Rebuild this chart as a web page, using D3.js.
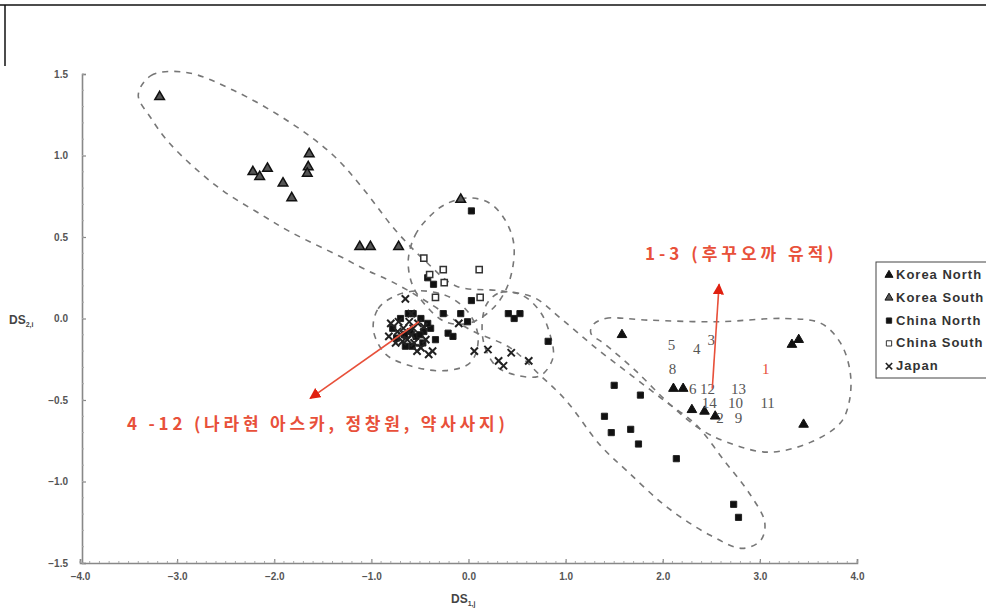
<!DOCTYPE html>
<html><head><meta charset="utf-8">
<script src="https://cdn.jsdelivr.net/npm/d3@7"></script>
<style>body{margin:0;background:#fff}svg{display:block}</style>
</head><body>
<svg id="c" width="986" height="612"></svg>
<script>
// ---- data (DS1,j , DS2,i) ----
const koreaSouth = [[-3.18,1.36],[-2.22,0.90],[-2.15,0.87],[-2.07,0.92],[-1.91,0.83],[-1.82,0.74],[-1.64,1.01],[-1.65,0.93],[-1.66,0.89],[-1.12,0.44],[-1.01,0.44],[-0.72,0.44],[-0.08,0.73]];
const koreaNorth = [[1.58,-0.10],[2.11,-0.43],[2.21,-0.43],[2.30,-0.56],[2.43,-0.57],[2.54,-0.60],[3.33,-0.16],[3.40,-0.13],[3.45,-0.65]];
const chinaNorth = [[1.50,-0.41],[1.77,-0.47],[1.40,-0.60],[1.47,-0.70],[1.67,-0.68],[1.75,-0.77],[2.14,-0.86],[2.73,-1.14],[2.78,-1.22],[0.82,-0.14],[0.03,0.66],
  [-0.46,-0.08],[-0.39,-0.06],[-0.62,0.03],[-0.57,0.03],[-0.70,0.00],[-0.54,-0.11],[-0.78,-0.06],[-0.65,-0.17],[-0.21,-0.09],[-0.16,-0.11],[-0.26,0.03],[-0.08,0.03],[-0.01,-0.02],[-0.49,0.00],[-0.34,-0.13],[-0.42,0.25],[-0.36,0.21],[0.03,0.11],[0.41,0.03],[0.47,0.00],[0.53,0.03],
  [-0.60,-0.08],[-0.50,-0.10],[-0.66,-0.10],[-0.42,-0.03],[-0.74,-0.12],[-0.58,-0.17],[-0.47,-0.15]];
const chinaSouth = [[-0.46,0.37],[-0.26,0.30],[-0.25,0.22],[-0.34,0.13],[0.11,0.30],[0.12,0.13],[-0.40,0.27]];
const japan = [[-0.65,0.12],[-0.59,0.03],[-0.41,-0.22],[-0.10,-0.03],[0.06,-0.20],[0.20,-0.19],[0.31,-0.26],[0.44,-0.21],[0.62,-0.26],[0.36,-0.29],[-0.37,-0.20],
  [-0.80,-0.03],[-0.73,-0.08],[-0.67,-0.06],[-0.59,-0.10],[-0.52,-0.03],[-0.68,-0.14],[-0.56,-0.15],[-0.49,-0.18],[-0.82,-0.11],[-0.75,-0.15],[-0.61,-0.02],[-0.44,-0.13],
  [-0.70,-0.10],[-0.63,-0.13],[-0.57,-0.06],[-0.46,-0.05],[-0.72,-0.02],[-0.53,-0.20]];
// sample number labels
const sampleLabels = ["5","4","3","8","1","6","12","13","14","10","11","2","9"];
const sampleX = [2.09,2.35,2.50,2.10,3.06,2.31,2.46,2.78,2.48,2.75,3.08,2.59,2.78];
const sampleY = [-0.16,-0.19,-0.13,-0.31,-0.31,-0.43,-0.43,-0.43,-0.52,-0.52,-0.52,-0.61,-0.61];
const legendLabels = ["Korea North","Korea South","China North","China South","Japan"];
const xTicks = [-4,-3,-2,-1,0,1,2,3,4];
const yTicks = [-1.5,-1.0,-0.5,0.0,0.5,1.0,1.5];
// group outlines
const outlineLong = [[-3.40,1.37],[-3.27,1.49],[-2.91,1.51],[-2.42,1.40],[-1.83,1.20],[-1.39,1.00],[-1.09,0.80],[-0.75,0.54],[-0.44,0.35],[-0.13,0.20],[0.33,0.17],[0.67,0.13],[0.95,0.00],[1.31,-0.18],[1.68,-0.35],[2.03,-0.51],[2.34,-0.65],[2.63,-0.87],[2.90,-1.08],[3.05,-1.25],[3.01,-1.36],[2.82,-1.41],[2.49,-1.33],[2.05,-1.16],[1.64,-0.94],[1.36,-0.78],[1.00,-0.50],[0.74,-0.35],[0.43,-0.18],[0.02,-0.07],[-0.42,0.10],[-0.77,0.22],[-1.06,0.30],[-1.32,0.38],[-1.83,0.53],[-2.17,0.65],[-2.52,0.78],[-2.83,0.93],[-3.10,1.09],[-3.27,1.23]];
const outlineCircle = [[-0.62,0.36],[-0.55,0.51],[-0.41,0.62],[-0.24,0.70],[0.00,0.74],[0.21,0.71],[0.36,0.62],[0.46,0.48],[0.46,0.33],[0.38,0.17],[0.23,0.05],[0.00,-0.03],[-0.24,-0.02],[-0.44,0.08],[-0.58,0.21]];
const outlineCenter = [[-0.98,-0.07],[-0.93,0.06],[-0.75,0.14],[-0.49,0.17],[-0.19,0.13],[0.02,0.02],[0.10,-0.13],[0.02,-0.27],[-0.24,-0.32],[-0.60,-0.29],[-0.85,-0.22]];
const outlineSmall = [[0.18,0.08],[0.33,0.16],[0.56,0.14],[0.74,0.04],[0.84,-0.10],[0.87,-0.24],[0.74,-0.35],[0.51,-0.35],[0.28,-0.29],[0.15,-0.13]];
const outlineRight = [[1.28,-0.04],[1.41,0.00],[1.85,-0.01],[2.56,-0.02],[3.26,0.00],[3.63,-0.03],[3.83,-0.15],[3.93,-0.33],[3.92,-0.51],[3.83,-0.64],[3.52,-0.76],[3.08,-0.82],[2.67,-0.76],[2.39,-0.68],[2.08,-0.53],[1.72,-0.32],[1.41,-0.16],[1.26,-0.09]];
// annotations
const noteTop = "1-3 (후꾸오까 유적)";
const noteLeft = "4 -12 (나라현 아스카, 정창원, 약사사지)";
const arrowTop = [[2.51,-0.43],[2.58,0.21]];
const arrowLeft = [[-0.51,-0.02],[-1.63,-0.49]];

const svg = d3.select("#c");
const x = d3.scaleLinear().domain([-4,4]).range([80,857]);
const y = d3.scaleLinear().domain([-1.5,1.5]).range([563,74]);
const red = "#e8503a";

// frame lines
svg.append("line").attr("x1",0).attr("x2",986).attr("y1",5).attr("y2",5).attr("stroke","#111").attr("stroke-width",1.5);
svg.append("line").attr("x1",5).attr("x2",5).attr("y1",5).attr("y2",66).attr("stroke","#111").attr("stroke-width",1.5);

// axes
const fmt = d=>d3.format(".1f")(d).replace("-","−");
const gx = svg.append("g").attr("transform",`translate(0,${y(-1.5)})`)
  .call(d3.axisBottom(x).tickValues(xTicks).tickSize(-4).tickPadding(10).tickFormat(fmt));
const gy = svg.append("g").attr("transform",`translate(${x(-4)+2},0)`)
  .call(d3.axisLeft(y).tickValues(yTicks).tickSize(-4).tickPadding(14).tickFormat(fmt));
[gx,gy].forEach(g=>{
  g.select(".domain").attr("stroke","#888").attr("stroke-width",1.6);
  g.selectAll(".tick line").attr("stroke","#888").attr("stroke-width",1.2);
  g.selectAll("text").attr("fill","#555").style("font","bold 10px Arial, 'Liberation Sans', sans-serif");
});
// minor ticks
svg.append("g").selectAll("line").data(d3.range(-40,41).map(d=>d/10)).join("line")
  .attr("x1",d=>x(d)).attr("x2",d=>x(d)).attr("y1",y(-1.5)).attr("y2",y(-1.5)-2).attr("stroke","#aaa");
svg.append("g").selectAll("line").data(d3.range(-15,16).map(d=>d/10)).join("line")
  .attr("y1",d=>y(d)).attr("y2",d=>y(d)).attr("x1",x(-4)+2).attr("x2",x(-4)+4).attr("stroke","#aaa");

// axis titles
const tx = svg.append("text").attr("x",451).attr("y",603).attr("fill","#444").style("font","bold 12px Arial, sans-serif");
tx.append("tspan").text("DS");
tx.append("tspan").attr("dy",3).style("font-size","7px").text("1,j");
const ty = svg.append("text").attr("x",9).attr("y",324).attr("fill","#444").style("font","bold 12px Arial, sans-serif");
ty.append("tspan").text("DS");
ty.append("tspan").attr("dy",3).style("font-size","7px").text("2,i");

// outlines
const line = d3.line().x(d=>x(d[0])).y(d=>y(d[1])).curve(d3.curveCatmullRomClosed.alpha(0.5));
[outlineLong,outlineCircle,outlineCenter,outlineSmall,outlineRight].forEach(o=>{
  svg.append("path").attr("d",line(o)).attr("fill","none").attr("stroke","#777").attr("stroke-width",1.6).attr("stroke-dasharray","6,6");
});

// markers
const tri = d3.symbol(d3.symbolTriangle,40)();
const sq = d3.symbol(d3.symbolSquare,38)();
const cross = d3.symbol(d3.symbolX,36)();
const styles = [
  {data:koreaNorth, path:tri, fill:"#111", stroke:"#111", sw:1},
  {data:koreaSouth, path:tri, fill:"#555", stroke:"#111", sw:1.5},
  {data:chinaNorth, path:sq, fill:"#111", stroke:"#222", sw:1},
  {data:chinaSouth, path:sq, fill:"#fff", stroke:"#333", sw:1.5},
  {data:japan, path:cross, fill:"none", stroke:"#222", sw:2}
];
styles.forEach(s=>{
  svg.append("g").selectAll("path").data(s.data).join("path")
    .attr("d",s.path).attr("transform",d=>`translate(${x(d[0])},${y(d[1])})`)
    .attr("fill",s.fill).attr("stroke",s.stroke).attr("stroke-width",s.sw);
});

// sample number labels
svg.append("g").selectAll("text").data(sampleLabels).join("text")
  .attr("x",(d,i)=>x(sampleX[i])).attr("y",(d,i)=>y(sampleY[i])+5)
  .attr("text-anchor","middle").attr("fill",d=>d==="1"?red:"#555")
  .style("font","15px 'Liberation Serif', 'DejaVu Serif', serif").text(d=>d);

// arrows
const defs = svg.append("defs");
defs.append("marker").attr("id","ah").attr("viewBox","0 0 10 10").attr("refX",9).attr("refY",5)
  .attr("markerWidth",7).attr("markerHeight",7).attr("orient","auto")
  .append("path").attr("d","M0,0L10,5L0,10Z").attr("fill","#e02010");
[arrowTop,arrowLeft].forEach(a=>{
  svg.append("line").attr("x1",x(a[0][0])).attr("y1",y(a[0][1])).attr("x2",x(a[1][0])).attr("y2",y(a[1][1]))
    .attr("stroke",red).attr("stroke-width",1.6).attr("marker-end","url(#ah)");
});
svg.append("text").attr("x",645).attr("y",260).attr("fill",red)
  .style("font","bold 17px 'Noto Sans CJK KR', sans-serif").style("letter-spacing","4px").text(noteTop);
svg.append("text").attr("x",127).attr("y",430).attr("fill",red)
  .style("font","bold 17px 'Noto Sans CJK KR', sans-serif").style("letter-spacing","3.8px").text(noteLeft);

// legend
const lg = svg.append("g");
lg.append("rect").attr("x",876).attr("y",262).attr("width",130).attr("height",116).attr("fill","#fff").attr("stroke","#444").attr("stroke-width",1);
legendLabels.forEach((t,i)=>{
  const s = styles[i];
  const yy = 275 + i*22.8;
  lg.append("path").attr("d",d3.symbol(i<2?d3.symbolTriangle:(i<4?d3.symbolSquare:d3.symbolX),28)())
    .attr("transform",`translate(889,${yy})`).attr("fill",s.fill).attr("stroke",s.stroke).attr("stroke-width",i==4?1.6:1);
  lg.append("text").attr("x",896).attr("y",yy+4).attr("fill","#333")
    .style("font","bold 13px Arial, 'Liberation Sans', sans-serif").style("letter-spacing","1px").text(t);
});
</script>
</body></html>
